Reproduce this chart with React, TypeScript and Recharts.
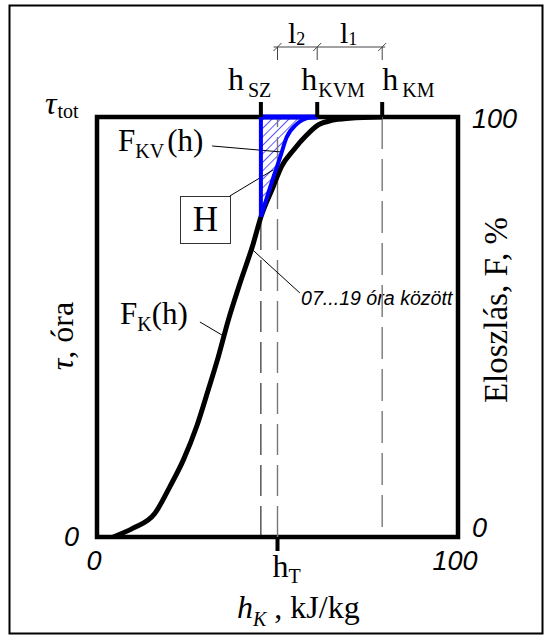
import React from 'react';
import { ComposedChart, Line, Area, XAxis, YAxis, ReferenceLine, ReferenceArea } from 'recharts';

// F_K(h) curve (h in %, F in %)
const kH = [4.5, 10, 16, 20.2, 23.9, 27.6, 30.8, 33.6, 36.4, 39.6, 43.3, 45.4, 48.8, 51.1, 54.4, 58.1, 61.3, 65, 70, 79];
const kF = [0, 2.1, 5.6, 12, 18.3, 26.3, 35, 42.9, 51.7, 60.4, 69.9, 76.2, 83.4, 88.2, 92.1, 95.7, 98.1, 99.2, 99.7, 100];

// F_KV(h) curve (blue)
const kvH = [45.4, 48.8, 50.7, 52.5, 55.3, 59, 61];
const kvF = [76.2, 85.5, 90.3, 95.1, 98.3, 99.9, 100];

const hSZ = 45.4;
const hT = 50;
const hKVM = 61;
const hKM = 79;

const topTicks = [hSZ, hKVM, hKM];
const topTickSubs = ['SZ', 'KVM', 'KM'];
const bottomTicks = [0, hT, 100];
const bottomTickLabels = ['0', 'h', '100'];
const leftTicks = [0, 100];
const leftTickLabels = ['0', '\u03c4'];
const rightTicks = [0, 100];
const rightTickLabels = ['0', '100'];

const kData = kH.map((h, i) => ({ h, f: kF[i] }));
const kvData = kvH.map((h, i) => ({ h, fkv: kvF[i] }));
const hatchData = kvH.map((h, i) => ({ h, range: [kvF[i], 100] }));

const W = 546;
const H = 637;
const plotL = 97;
const plotR = 458;
const px = (h: number) => plotL + ((plotR - plotL) * h) / 100;

const serif = '"Liberation Serif", "Times New Roman", serif';
const sans = '"Liberation Sans", Arial, sans-serif';

const TopTick = (props: any) => {
  const { x, y, index } = props;
  const dx = [-33, -16, 0][index];
  return (
    <g>
      <line x1={x} y1={y - 15} x2={x} y2={y} stroke="#000" strokeWidth={4} />
      <text x={x + dx} y={y - 27} fontFamily={serif} fontSize={32} fill="#000">
        <tspan>h</tspan>
        <tspan fontSize={20} dx={index === 1 ? 1 : 4} dy={7}>{topTickSubs[index]}</tspan>
      </text>
    </g>
  );
};

const BottomTick = (props: any) => {
  const { x, y, index } = props;
  if (index === 1) {
    return (
      <g>
        <line x1={x} y1={y} x2={x} y2={y + 14} stroke="#000" strokeWidth={4} />
        <text x={x - 5} y={y + 40} fontFamily={serif} fontSize={32} fill="#000">
          <tspan>{bottomTickLabels[index]}</tspan>
          <tspan fontSize={20} dy={6}>T</tspan>
        </text>
      </g>
    );
  }
  return (
    <text x={x - 3} y={y + 33} textAnchor="middle" fontFamily={sans} fontStyle="italic" fontSize={27} fill="#000">
      {bottomTickLabels[index]}
    </text>
  );
};

const LeftTick = (props: any) => {
  const { x, y, index } = props;
  if (index === 1) {
    return (
      <text x={x - 52} y={y - 3} fontFamily={serif} fontSize={32} fill="#000">
        <tspan fontStyle="italic">{leftTickLabels[index]}</tspan>
        <tspan fontSize={20} dx={1} dy={4}>tot</tspan>
      </text>
    );
  }
  return (
    <text x={x - 18} y={y + 9} textAnchor="end" fontFamily={sans} fontStyle="italic" fontSize={27} fill="#000">
      {leftTickLabels[index]}
    </text>
  );
};

const RightTick = (props: any) => {
  const { x, y, index } = props;
  return (
    <text x={x + 14} y={index === 1 ? y + 11 : y} fontFamily={sans} fontStyle="italic" fontSize={27} fill="#000">
      {rightTickLabels[index]}
    </text>
  );
};

const Bracket = () => {
  const xs = [px(hT), px(hKVM), px(hKM)];
  return (
    <g stroke="#444" strokeWidth={1}>
      <line x1={xs[0] - 4} y1={47} x2={xs[2] + 3} y2={47} />
      {xs.map((x, i) => (
        <g key={i}>
          <line x1={x} y1={47} x2={x} y2={60} />
          <line x1={x - 4} y1={51} x2={x + 4} y2={43} />
        </g>
      ))}
    </g>
  );
};

export default function App() {
  return (
    <div style={{ position: 'absolute', left: 0, top: 0, width: W, height: H }}>
      <ComposedChart width={W} height={H} margin={{ top: 87, right: 28, bottom: 70, left: 37 }}>
        <defs>
          <pattern id="hatch" patternUnits="userSpaceOnUse" width={6} height={6} patternTransform="rotate(45)">
            <rect x={0} y={0} width={6} height={6} fill="#fff" />
            <line x1={0} y1={0} x2={0} y2={6} stroke="#0000ff" strokeWidth={1.3} />
          </pattern>
        </defs>
        <rect x={9.5} y={5.5} width={533} height={628} fill="none" stroke="#000" strokeWidth={2} />

        <XAxis
          xAxisId={0}
          type="number"
          dataKey="h"
          domain={[0, 100]}
          allowDataOverflow
          ticks={bottomTicks}
          interval={0}
          height={30}
          axisLine={false}
          tickLine={false}
          tickSize={0}
          tickMargin={0}
          tick={<BottomTick />}
        />
        <XAxis
          xAxisId="top"
          orientation="top"
          type="number"
          dataKey="h"
          domain={[0, 100]}
          allowDataOverflow
          ticks={topTicks}
          interval={0}
          height={30}
          axisLine={false}
          tickLine={false}
          tickSize={0}
          tickMargin={0}
          tick={<TopTick />}
        />
        <YAxis
          yAxisId={0}
          type="number"
          domain={[0, 100]}
          allowDataOverflow
          ticks={leftTicks}
          interval={0}
          width={60}
          axisLine={false}
          tickLine={false}
          tickSize={0}
          tickMargin={0}
          tick={<LeftTick />}
        />
        <YAxis
          yAxisId="right"
          orientation="right"
          type="number"
          domain={[0, 100]}
          allowDataOverflow
          ticks={rightTicks}
          interval={0}
          width={60}
          axisLine={false}
          tickLine={false}
          tickSize={0}
          tickMargin={0}
          tick={<RightTick />}
        />

        <Area
          data={hatchData}
          dataKey="range"
          type="monotone"
          stroke="none"
          fill="url(#hatch)"
          fillOpacity={1}
          isAnimationActive={false}
        />

        <ReferenceLine x={hSZ} stroke="#000" strokeWidth={1} strokeDasharray="31 10" />
        <ReferenceLine x={hT} stroke="#777" strokeWidth={1.4} strokeDasharray="31 10" />
        <ReferenceLine
          segment={[{ x: hKM, y: 100 }, { x: hKM, y: 0 }]}
          stroke="#777"
          strokeWidth={1.4}
          strokeDasharray="32 10"
        />

        <ReferenceArea x1={0} x2={100} y1={0} y2={100} fill="none" stroke="#000" strokeWidth={4.5} />

        {/* leader lines */}
        <ReferenceLine segment={[{ x: 31.9, y: 93.1 }, { x: 50.7, y: 91.7 }]} stroke="#000" strokeWidth={1} />
        <ReferenceLine segment={[{ x: 36.8, y: 81.2 }, { x: 48.8, y: 87.4 }]} stroke="#000" strokeWidth={1} />
        <ReferenceLine segment={[{ x: 28.5, y: 51.2 }, { x: 34.6, y: 48.1 }]} stroke="#000" strokeWidth={1} />
        <ReferenceLine segment={[{ x: 43.2, y: 68.3 }, { x: 56.2, y: 58.1 }]} stroke="#000" strokeWidth={1} />

        <Line data={kData} dataKey="f" type="monotone" stroke="#000" strokeWidth={5} dot={false} isAnimationActive={false} />
        <Line data={kvData} dataKey="fkv" type="monotone" stroke="#0000ff" strokeWidth={4} dot={false} isAnimationActive={false} />
        <ReferenceLine segment={[{ x: hSZ, y: kvF[0] }, { x: hSZ, y: 100 }]} stroke="#0000ff" strokeWidth={4} />
        <ReferenceLine segment={[{ x: hSZ, y: 100 }, { x: hKVM, y: 100 }]} stroke="#0000ff" strokeWidth={5} />

        <Bracket />
        <text x={288} y={43} fontFamily={serif} fontSize={30} fill="#000">
          <tspan>l</tspan>
          <tspan fontSize={18} dy={2}>2</tspan>
        </text>
        <text x={340} y={43} fontFamily={serif} fontSize={30} fill="#000">
          <tspan>l</tspan>
          <tspan fontSize={18} dy={2}>1</tspan>
        </text>

        <text x={118} y={151} fontFamily={serif} fontSize={31} fill="#000">
          <tspan>F</tspan>
          <tspan fontSize={20} dy={7}>KV</tspan>
          <tspan dx={3} dy={-7}>(h)</tspan>
        </text>
        <text x={120} y={324} fontFamily={serif} fontSize={31} fill="#000">
          <tspan>F</tspan>
          <tspan fontSize={20} dy={7}>K</tspan>
          <tspan dy={-7}>(h)</tspan>
        </text>
        <rect x={180.5} y={196.5} width={50} height={47} fill="#fff" stroke="#333" strokeWidth={1} />
        <text x={205.5} y={231} textAnchor="middle" fontFamily={serif} fontSize={35} fill="#000">H</text>
        <text x={301} y={305} fontFamily={sans} fontStyle="italic" fontSize={19.6} fill="#000">07...19 óra között</text>

        <text
          x={62}
          y={336}
          transform="rotate(-90 62 336)"
          textAnchor="middle"
          dominantBaseline="central"
          fontFamily={serif}
          fontSize={32}
          fill="#000"
        >
          <tspan fontStyle="italic">τ</tspan>
          <tspan>, óra</tspan>
        </text>
        <text
          x={496}
          y={310}
          transform="rotate(-90 496 310)"
          textAnchor="middle"
          dominantBaseline="central"
          fontFamily={serif}
          fontSize={33}
          fill="#000"
        >
          Eloszlás, F, %
        </text>
        <text x={237} y={618} fontFamily={serif} fontSize={32} fill="#000">
          <tspan fontStyle="italic">h</tspan>
          <tspan fontStyle="italic" fontSize={20} dy={8}>K</tspan>
          <tspan dy={-8}> , kJ/kg</tspan>
        </text>
      </ComposedChart>
    </div>
  );
}
